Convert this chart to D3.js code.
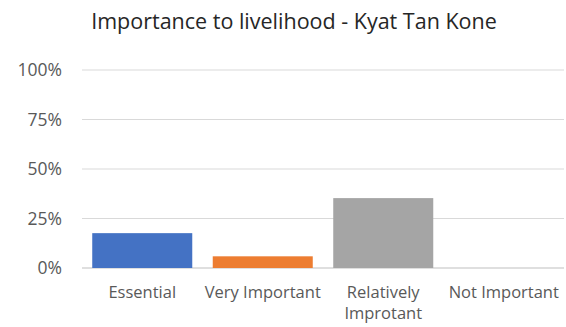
<!DOCTYPE html>
<html>
<head>
<meta charset="utf-8">
<script src="https://cdn.jsdelivr.net/npm/d3@7"></script>
<style>
  body { margin: 0; background: #fff; }
  text { font-family: "Open Sans", "Noto Sans", sans-serif; fill: #404040; }
</style>
</head>
<body>
<div id="graf"></div>
<script>
// Datos
var categorias = ["Essential", "Very Important", "Relatively Improtant", "Not Important"];
var lineasEtiqueta = [["Essential"], ["Very Important"], ["Relatively", "Improtant"], ["Not Important"]];
var valores = [17.6, 5.9, 35.3, 0];
var colores = ["#4472C4", "#ED7D31", "#A5A5A5", "#FFC000"];
var ticks = [0, 25, 50, 75, 100];
var titulo = "Importance to livelihood - Kyat Tan Kone";

var ancho_total = 566, alto_total = 327;
var margins = { top: 70, left: 82, right: 2, bottom: 59 };
var ancho = ancho_total - margins.left - margins.right;
var alto = alto_total - margins.top - margins.bottom;

var svg = d3.select("#graf").append("svg")
  .attr("width", ancho_total)
  .attr("height", alto_total);

svg.append("text")
  .attr("x", 294)
  .attr("y", 29)
  .attr("text-anchor", "middle")
  .style("font-size", "21.5px")
  .style("fill", "#262626")
  .text(titulo);

var g = svg.append("g")
  .attr("transform", `translate(${margins.left}, ${margins.top})`);

// Escaladores
var x = d3.scaleBand().domain(categorias).range([0, ancho])
  .paddingInner(0.17).paddingOuter(0.085);
var y = d3.scaleLinear().domain([0, 100]).range([alto, 0]);

// Rejilla
g.selectAll(".grid").data(ticks).enter().append("line")
  .attr("x1", 0).attr("x2", ancho)
  .attr("y1", (d) => y(d)).attr("y2", (d) => y(d))
  .attr("stroke", (d) => d == 0 ? "#BFBFBF" : "#D9D9D9")
  .attr("stroke-width", 1);

// Eje Y
var yAxis = g.append("g")
  .call(d3.axisLeft(y).tickValues(ticks).tickFormat((d) => d + "%").tickSize(0).tickPadding(20));
yAxis.select(".domain").remove();
yAxis.selectAll("text").style("font-size", "17.5px").style("fill", "#595959");

// Barras
g.selectAll(".barra").data(valores).enter().append("rect")
  .attr("x", (d, i) => x(categorias[i]))
  .attr("width", x.bandwidth())
  .attr("y", (d) => y(d))
  .attr("height", (d) => alto - y(d))
  .attr("fill", (d, i) => colores[i]);

// Etiquetas
var etiquetas = g.selectAll(".cat").data(categorias).enter().append("text")
  .attr("x", (d) => x(d) + x.bandwidth() / 2)
  .attr("y", alto + 30)
  .attr("text-anchor", "middle")
  .style("font-size", "16.5px")
  .style("fill", "#595959");
etiquetas.each(function (d, i) {
  var t = d3.select(this);
  lineasEtiqueta[i].forEach((l, j) => {
    t.append("tspan")
      .attr("x", x(d) + x.bandwidth() / 2)
      .attr("dy", j == 0 ? 0 : 21)
      .text(l);
  });
});
</script>
</body>
</html>
